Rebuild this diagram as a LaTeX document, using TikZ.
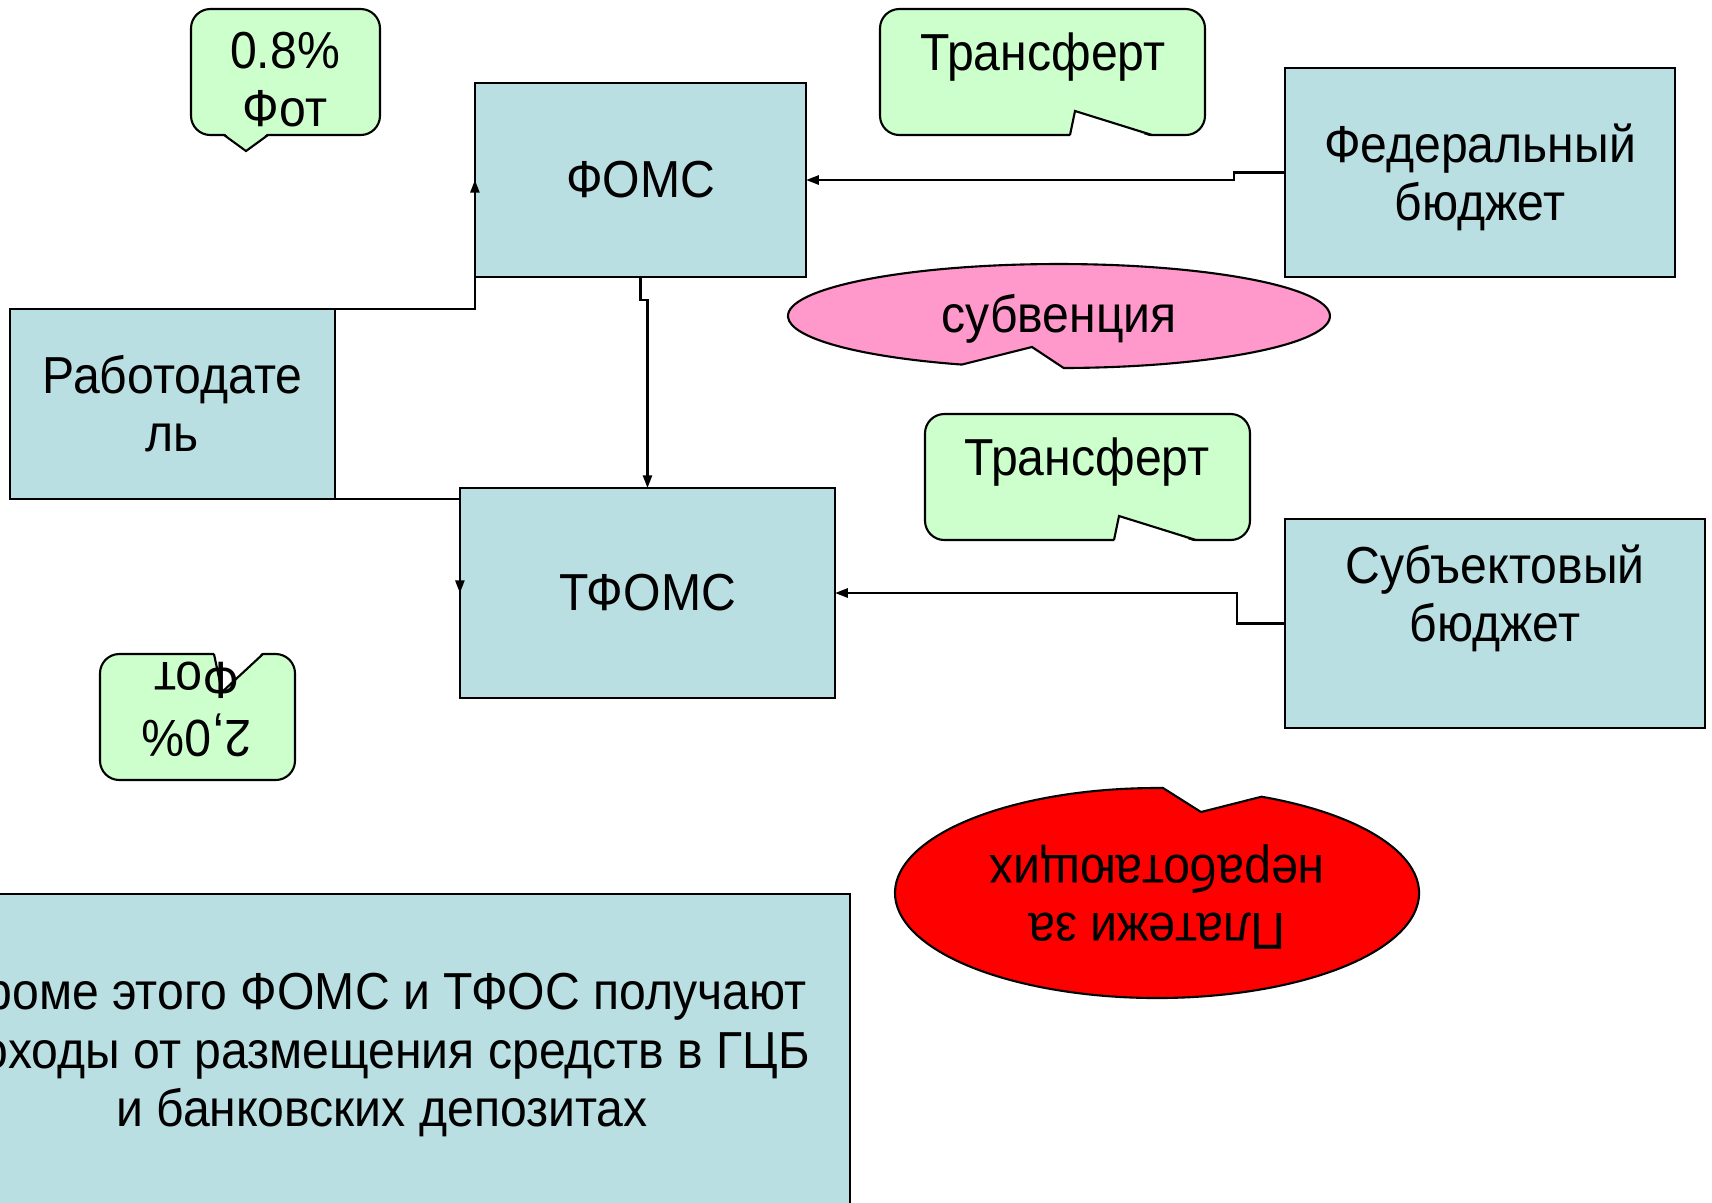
\documentclass[tikz,border=0pt]{standalone}
\usepackage{fontspec}
\setmainfont{Liberation Sans}[FakeStretch=0.925]
\usetikzlibrary{arrows.meta}
\definecolor{boxblue}{HTML}{B9DFE2}
\definecolor{callgreen}{HTML}{CCFFCC}
\definecolor{subvpink}{HTML}{FF99CC}

\begin{document}
\begin{tikzpicture}[x=0.01cm, y=-0.01cm, font=\fontsize{14.8}{16.5}\selectfont]
        % ================= styles =================
        \tikzset{
            % blue boxes
            fund/.style={rectangle, draw=black, line width=0.6pt, fill=boxblue, inner sep=0pt, outer sep=0pt, align=center},
            % green callouts
            callout/.style={draw=black, line width=0.6pt, fill=callgreen, rounded corners=5.5pt},
            % notch cut into a callout
            notch/.style={fill=white},
            % plain text
            txt/.style={align=center, inner sep=0pt},
            % connectors
            flow/.style={line width=0.6pt, -{Triangle[length=3.6pt, width=2.6pt]}}
        }

        \useasboundingbox (0,0) rectangle (1712,1202);
        \clip (0,0) rectangle (1712,1202);

        % ================= boxes =================
        \node[fund, minimum width=3.31cm, minimum height=1.94cm] (foms) at (640.5,180) {ФОМС};
        \node[fund, minimum width=3.75cm, minimum height=2.10cm] (tfoms) at (647.5,593) {ТФОМС};
        \node[fund, minimum width=3.25cm, minimum height=1.90cm] (rab) at (172.5,404) {Работодате\\ль};
        \node[fund, minimum width=3.90cm, minimum height=2.09cm] (fed) at (1480,172.5) {};
        \node[txt] (fedtxt) at (1480,177) {Федеральный\\бюджет};
        \node[fund, minimum width=4.20cm, minimum height=2.09cm] (subj) at (1495,623.5) {};
        \node[txt] (subjtxt) at (1495,598) {Субъектовый\\бюджет};
        \node[fund, minimum width=9.36cm, minimum height=4.06cm] (extra) at (382,1097) {};
        \node[txt] (extratxt) at (382,1055) {Кроме этого ФОМС и ТФОС получают\\доходы от размещения средств в ГЦБ\\и банковских депозитах};

        % ================= callouts =================
        % 0.8% (tail pointing down)
        \draw[callout] (191,9) rectangle (380,135);
        \fill[callgreen] (224,133) -- (246,151) -- (268,133) -- cycle;
        \draw[line width=0.6pt] (224,135) -- (246,151) -- (268,135);
        \node[txt] (f08) at (285,80) {0.8\%\\Фот};

        % Трансферт (top)
        \draw[callout] (880,9) rectangle (1205,135);
        \fill[notch] (1070,137) -- (1075,111) -- (1152,137) -- cycle;
        \draw[line width=0.6pt] (1070,135) -- (1075,111) -- (1152,135);
        \node[txt] (tr1) at (1043,57) {Трансферт};

        % Трансферт (middle)
        \draw[callout] (925,414) rectangle (1250,540);
        \fill[notch] (1114,542) -- (1119,516) -- (1196,542) -- cycle;
        \draw[line width=0.6pt] (1114,540) -- (1119,516) -- (1196,540);
        \node[txt] (tr2) at (1087,462) {Трансферт};

        % 2,0% (upside down)
        \draw[callout] (100,654) rectangle (295,780);
        \fill[notch] (214,652) -- (222,692) -- (263,652) -- cycle;
        \draw[line width=0.6pt] (214,654) -- (222,692) -- (263,654);
        \node[txt, rotate=180] (f20) at (197,709) {2,0\%\\Фот};

        % субвенция
        \draw[line width=0.6pt, fill=subvpink] (1063.7,368) arc[start angle=89, end angle=-249, x radius=271, y radius=52] -- (1032,347) -- cycle;
        \node[txt] (subv) at (1059,319) {субвенция};

        % Платежи за неработающих (upside down)
        \draw[line width=0.6pt, fill=red] (1163,788) -- (1201,812) -- (1261.5,796.7) arc[start angle=-66.5, end angle=271.3, x radius=262, y radius=105] -- cycle;
        \node[txt, rotate=180] (pay) at (1157,897) {Платежи за\\неработающих};

        % ================= connectors =================
        \draw[flow] (rab.north) -| (foms.west);
        \draw[flow] (rab.south) -| (tfoms.west);
        \draw[flow] (foms.south) -- ++(0,23) -| (tfoms.north);
        \draw[flow] (fed.west) -- ++(-51,0) |- (foms.east);
        \draw[flow] (subj.west) -- ++(-48,0) |- (tfoms.east);

    \end{tikzpicture}
\end{document}
